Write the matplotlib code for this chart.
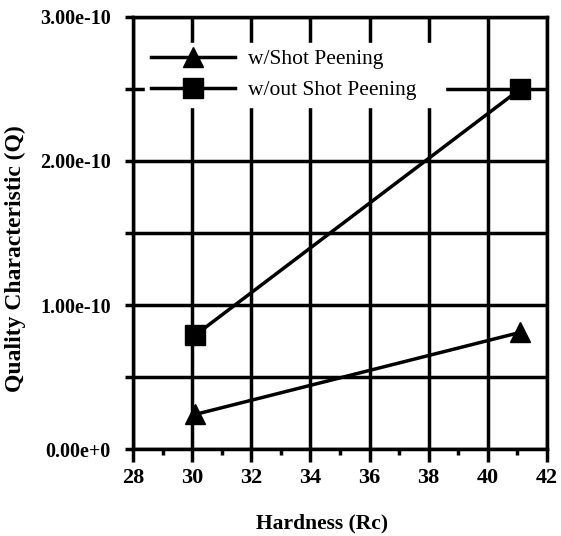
"""Quality characteristic vs hardness, with and without shot peening"""

import matplotlib.pyplot as plt
from matplotlib.ticker import MultipleLocator, FuncFormatter

hardness = [30.1, 41.1]
q_with_peening = [2.4e-11, 8.1e-11]
q_without_peening = [7.9e-11, 2.5e-10]
x_ticks = [28, 30, 32, 34, 36, 38, 40, 42]


def y_label(v, pos):
    labels = {0: "0.00e+0", 1: "1.00e-10", 2: "2.00e-10", 3: "3.00e-10"}
    k = round(v / 1e-10, 2)
    if abs(k - round(k)) < 1e-6:
        return labels.get(int(round(k)), "")
    return ""


def main():
    plt.rcParams["font.family"] = ["Liberation Serif", "DejaVu Serif"]
    plt.rcParams["font.weight"] = "bold"
    fig = plt.figure(figsize=(5.61, 5.36), dpi=100)
    ax = fig.add_axes([0.237, 0.1623, 0.738, 0.806])

    ax.plot(hardness, q_with_peening, color="black", lw=2.5, marker="^",
            markersize=15, label="w/Shot Peening", zorder=3)
    ax.plot(hardness, q_without_peening, color="black", lw=2.5, marker="s",
            markersize=15, label="w/out Shot Peening", zorder=3)

    ax.set_xlim(28, 42)
    ax.set_ylim(0, 3e-10)
    ax.set_xticks(x_ticks)
    ax.xaxis.set_minor_locator(MultipleLocator(1))
    ax.yaxis.set_major_locator(MultipleLocator(0.5e-10))
    ax.yaxis.set_major_formatter(FuncFormatter(y_label))
    ax.grid(True, which="major", color="black", lw=2.5)
    ax.set_axisbelow(True)
    for s in ax.spines.values():
        s.set_linewidth(2.5)
    ax.tick_params(axis="x", which="major", direction="out", length=9, width=2.5,
                   labelsize=16, pad=5)
    ax.tick_params(axis="y", which="major", direction="out", length=6, width=2.5,
                   labelsize=14.5, pad=10)
    ax.tick_params(axis="x", which="minor", direction="out", length=4, width=2.5)

    ax.set_xlabel("Hardness (Rc)", fontsize=15.5, fontweight="bold", labelpad=18)
    ax.set_ylabel("Quality Characteristic (Q)", fontsize=17, fontweight="bold", labelpad=10)
    ax.xaxis.label.set_x(0.457)
    ax.yaxis.label.set_y(0.44)

    leg = ax.legend(loc="upper left", bbox_to_anchor=(0.029, 0.94), borderaxespad=0,
                    fontsize=15.5, frameon=True, fancybox=False, edgecolor="white",
                    handlelength=3.9, handletextpad=0.6, borderpad=0.3,
                    labelspacing=0.5)
    leg.get_frame().set_facecolor("white")
    leg.get_frame().set_alpha(1)
    for t in leg.get_texts():
        t.set_fontweight("normal")
        t.set_text(t.get_text() + "    ")

    fig.savefig("out.png", dpi=100)


main()
